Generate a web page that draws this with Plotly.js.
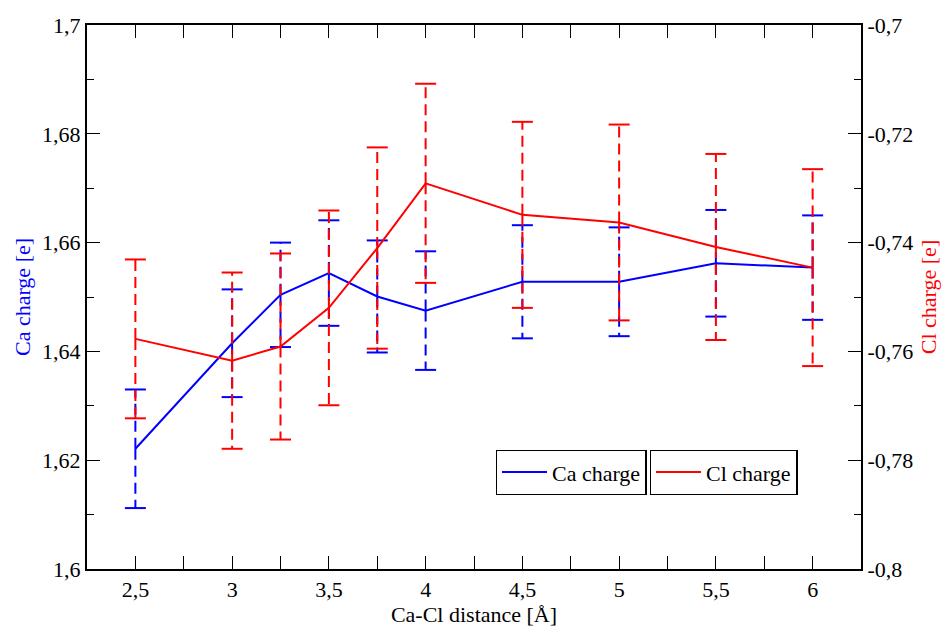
<!DOCTYPE html>
<html>
<head>
<meta charset="utf-8">
<script src="https://cdn.plot.ly/plotly-3.0.1.min.js"></script>
<style>html,body{margin:0;padding:0;background:#fff;}#chart{width:943px;height:632px;}</style>
</head>
<body>
<div id="chart"></div>
<script>
// ---- data ----
const distance = [2.5, 3, 3.25, 3.5, 3.75, 4, 4.5, 5, 5.5, 6];
const caCharge = [1.6221, 1.6415, 1.6504, 1.6544, 1.6501, 1.6475, 1.6528, 1.6528, 1.6562, 1.6554];
const caError  = [0.0109, 0.0099, 0.0096, 0.0097, 0.0103, 0.0109, 0.0104, 0.0100, 0.0098, 0.0096];
const clCharge = [-0.7577, -0.7617, -0.7591, -0.7520, -0.7410, -0.7291, -0.7349, -0.7363, -0.7408, -0.7446];
const clError  = [0.0146, 0.0162, 0.0171, 0.0179, 0.0185, 0.0183, 0.0171, 0.0180, 0.0171, 0.0181];

const xTickVals = [2.5, 3, 3.5, 4, 4.5, 5, 5.5, 6];
const leftTickVals = [1.6, 1.62, 1.64, 1.66, 1.68, 1.7];
const leftTickText = ['1,6', '1,62', '1,64', '1,66', '1,68', '1,7'];
const rightTickVals = [-0.8, -0.78, -0.76, -0.74, -0.72, -0.7];
const rightTickText = ['-0,8', '-0,78', '-0,76', '-0,74', '-0,72', '-0,7'];

const seriesNames = ['Ca charge', 'Cl charge'];
const BLUE = '#0000ff', RED = '#ff0000';
const FONT = 'Liberation Serif, Times New Roman, serif';

function errorSegments(xs, vs, es) {
  const x = [], y = [];
  xs.forEach((d, i) => {
    x.push(d, d, null, d, d, null);
    y.push(vs[i], vs[i] + es[i], null, vs[i], vs[i] - es[i], null);
  });
  return {x, y};
}
function capPoints(xs, vs, es) {
  const x = [], y = [];
  xs.forEach((d, i) => { x.push(d, d); y.push(vs[i] + es[i], vs[i] - es[i]); });
  return {x, y};
}

function seriesTraces(vals, errs, color, name, yaxis, legend) {
  const seg = errorSegments(distance, vals, errs);
  const caps = capPoints(distance, vals, errs);
  return [
    {x: seg.x, y: seg.y, yaxis, mode: 'lines', connectgaps: false, showlegend: false, hoverinfo: 'skip',
     line: {color, width: 2, dash: '11px,6px'}},
    {x: caps.x, y: caps.y, yaxis, mode: 'markers', showlegend: false, hoverinfo: 'skip',
     marker: {symbol: 'line-ew', size: 15, color, line: {color, width: 2}}},
    {x: distance, y: vals, yaxis, mode: 'lines', name, legend,
     line: {color, width: 2}}
  ];
}

const traces = [
  ...seriesTraces(caCharge, caError, BLUE, seriesNames[0], 'y', 'legend'),
  ...seriesTraces(clCharge, clError, RED, seriesNames[1], 'y2', 'legend2')
];

const tickFont = {family: FONT, size: 22, color: '#000'};
const legendCommon = {
  font: {family: FONT, size: 22, color: '#000'},
  bgcolor: '#fff', bordercolor: '#000', borderwidth: 1.3,
  xanchor: 'left', yanchor: 'top', itemclick: false, itemwidth: 45
};

const layout = {
  width: 943, height: 632,
  margin: {l: 87, r: 82, t: 25, b: 63, pad: 0},
  paper_bgcolor: '#fff', plot_bgcolor: '#fff',
  separators: ', ',
  font: {family: FONT, size: 22, color: '#000'},
  xaxis: {
    range: [2.25, 6.25], tickmode: 'array', tickvals: xTickVals,
    showgrid: false, zeroline: false,
    showline: true, linecolor: '#000', linewidth: 2, mirror: 'allticks',
    ticks: 'inside', ticklen: 13, tickwidth: 1, tickcolor: '#000',
    minor: {ticks: 'inside', dtick: 0.25, tick0: 2.5, ticklen: 7, tickwidth: 1, tickcolor: '#000', showgrid: false},
    tickfont: tickFont,
    title: {text: 'Ca-Cl distance [Å]', font: {family: FONT, size: 22, color: '#000'}, standoff: 4}
  },
  yaxis: {
    range: [1.6, 1.7], tickmode: 'array', tickvals: leftTickVals, ticktext: leftTickText,
    showgrid: false, zeroline: false,
    showline: true, linecolor: '#000', linewidth: 2,
    ticks: 'inside', ticklen: 13, tickwidth: 1, tickcolor: '#000',
    minor: {ticks: 'inside', dtick: 0.01, tick0: 1.6, ticklen: 7, tickwidth: 1, tickcolor: '#000', showgrid: false},
    tickfont: tickFont,
    title: {text: 'Ca charge [e]', font: {family: FONT, size: 22, color: BLUE}, standoff: 5}
  },
  yaxis2: {
    range: [-0.8, -0.7], overlaying: 'y', side: 'right',
    tickmode: 'array', tickvals: rightTickVals, ticktext: rightTickText,
    showgrid: false, zeroline: false,
    showline: true, linecolor: '#000', linewidth: 2,
    ticks: 'inside', ticklen: 13, tickwidth: 1, tickcolor: '#000',
    minor: {ticks: 'inside', dtick: 0.01, tick0: -0.8, ticklen: 7, tickwidth: 1, tickcolor: '#000', showgrid: false},
    tickfont: tickFont,
    title: {text: 'Cl charge [e]', font: {family: FONT, size: 22, color: RED}, standoff: 8}
  },
  legend: Object.assign({x: 0.528, y: 0.219}, legendCommon),
  legend2: Object.assign({x: 0.727, y: 0.219}, legendCommon),
  showlegend: true
};

Plotly.newPlot('chart', traces, layout, {staticPlot: true, displayModeBar: false});
</script>
</body>
</html>
